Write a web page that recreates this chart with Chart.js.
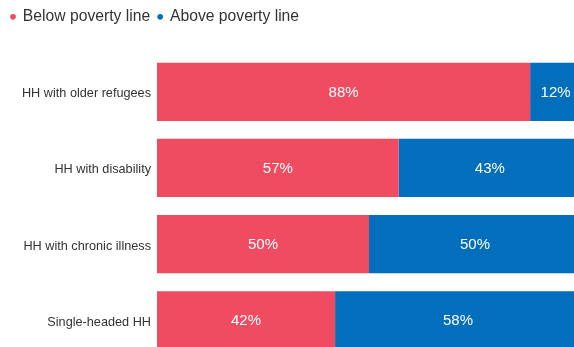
<!DOCTYPE html>
<html>
<head>
<meta charset="utf-8">
<script src="https://cdn.jsdelivr.net/npm/chart.js@4/dist/chart.umd.min.js"></script>
<style>
html,body{margin:0;padding:0;background:#fff;overflow:hidden;width:574px;height:347px;}
canvas{display:block;}
</style>
</head>
<body>
<canvas id="c" width="581" height="372" style="width:581px;height:372px;"></canvas>
<script>
const categories = ["HH with older refugees", "HH with disability", "HH with chronic illness", "Single-headed HH"];
const belowPoverty = [88, 57, 50, 42];
const abovePoverty = [12, 43, 50, 58];
const seriesNames = ["Below poverty line", "Above poverty line"];
const colors = ["#ef4b61", "#036ebb"];

const FONT = "'Liberation Sans', Arial, sans-serif";

const legendSpacer = {
  id: 'legendSpacer',
  beforeUpdate(chart) {
    if (chart.legend && !chart.legend._patched) {
      const f = chart.legend.fit;
      chart.legend.fit = function () { f.call(this); this.height += 19; };
      chart.legend._patched = true;
    }
  }
};

const barLabels = {
  id: 'barLabels',
  afterDatasetsDraw(chart) {
    const ctx = chart.ctx;
    ctx.save();
    ctx.font = "15px " + FONT;
    ctx.fillStyle = "#ffffff";
    ctx.textAlign = "center";
    ctx.textBaseline = "middle";
    chart.data.datasets.forEach((ds, di) => {
      const meta = chart.getDatasetMeta(di);
      meta.data.forEach((bar, i) => {
        const v = ds.data[i];
        const cx = (bar.x + bar.base) / 2;
        ctx.fillText(v + "%", cx, bar.y + 1);
      });
    });
    ctx.restore();
  }
};

new Chart(document.getElementById('c'), {
  type: 'bar',
  data: {
    labels: categories,
    datasets: [
      { label: seriesNames[0], data: belowPoverty, backgroundColor: colors[0], borderWidth: 0 },
      { label: seriesNames[1], data: abovePoverty, backgroundColor: colors[1], borderWidth: 0 }
    ]
  },
  options: {
    indexAxis: 'y',
    responsive: false,
    animation: false,
    categoryPercentage: 1,
    barPercentage: 0.764,
    layout: { padding: { left: 3, top: 1, right: 0, bottom: 0 } },
    scales: {
      x: { stacked: true, min: 0, max: 100, display: false },
      y: {
        stacked: true,
        grid: { display: false, drawTicks: false },
        border: { display: false },
        ticks: { color: '#333333', font: { family: FONT, size: 12.7 }, padding: 6, labelOffset: 2 },
        afterFit(s) { s.width = 154; }
      }
    },
    plugins: {
      legend: {
        position: 'top',
        align: 'start',
        labels: {
          usePointStyle: true,
          pointStyle: 'circle',
          boxWidth: 4,
          boxHeight: 4,
          padding: 8,
          color: '#333333',
          font: { family: FONT, size: 15.7 }
        }
      },
      tooltip: { enabled: false }
    }
  },
  plugins: [legendSpacer, barLabels]
});
</script>
</body>
</html>
